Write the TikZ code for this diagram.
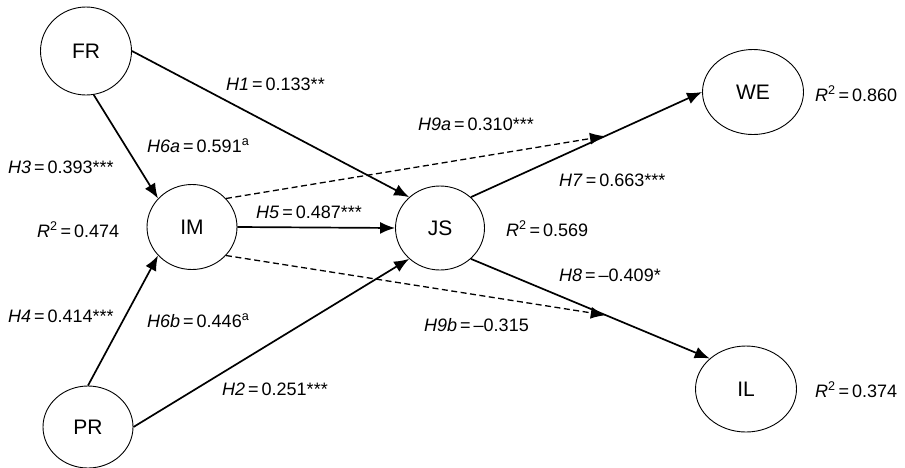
\documentclass[tikz,border=0pt]{standalone}
\usepackage{fontspec}
\setmainfont{Liberation Sans}
\usepackage{tikz}
\usetikzlibrary{shapes.geometric,arrows.meta}
\tikzset{latent/.style={draw, shape=ellipse, line width=0.9pt, inner sep=0pt, font=\fontsize{21}{23}\selectfont},
         est/.style={inner sep=0pt, anchor=base west, font=\fontsize{18}{20}\selectfont},
         path/.style={line width=1.7pt, -{Latex[length=15pt,width=12pt]}},
         medpath/.style={line width=1.3pt, dash pattern=on 6pt off 3.5pt, -{Latex[length=15pt,width=12pt]}}}
\newcommand{\est}[2]{\textit{#1}\,=\,#2}
\newcommand{\rsq}[1]{\textit{R}\textsuperscript{2}\,=\,#1}

\begin{document}
\begin{tikzpicture}[x=1pt, y=-1pt]
    \useasboundingbox (0,0) rectangle (905,467);

    \foreach \n/\x/\y/\w/\h in {FR/86/51/91/88, IM/192/227/90/85, PR/88/427/90/82,
                                JS/440/228/89/84, WE/753/92/101/85, IL/746/389/101/86}
        \node [latent, minimum width=\w pt, minimum height=\h pt] (\n) at (\x,\y) {\n};

    \draw [path] (FR.east) to (JS.135);
    \draw [path] (FR.-80) to (IM.140);
    \draw [path] (PR.north) to (IM.-140);
    \draw [path] (PR.east) to (JS.-135);
    \draw [path] (IM.east) to (JS.west);
    \draw [path] (JS.45) to coordinate [pos=0.58] (mWE) (WE.west);
    \draw [path] (JS.-45) to coordinate [pos=0.565] (mIL) (IL.140);

    \draw [medpath] (IM.40) to (mWE);
    \draw [medpath] (IM.-40) to (mIL);

    \foreach \n/\x/\y/\t in {h1/226/90/{\est{H1}{0.133**}},
                             h6a/147/152/{\est{H6a}{0.591\textsuperscript{a}}},
                             h3/8/173/{\est{H3}{0.393***}},
                             rIM/37/237/{\rsq{0.474}},
                             h5/256/218/{\est{H5}{0.487***}},
                             h4/8/322/{\est{H4}{0.414***}},
                             h6b/147/327/{\est{H6b}{0.446\textsuperscript{a}}},
                             h2/222/395/{\est{H2}{0.251***}},
                             h9a/418/130/{\est{H9a}{0.310***}},
                             h7/559/186/{\est{H7}{0.663***}},
                             rJS/506/236/{\rsq{0.569}},
                             h8/559/281/{\est{H8}{–0.409*}},
                             h9b/424/331/{\est{H9b}{–0.315}},
                             rWE/815/101/{\rsq{0.860}},
                             rIL/815/397/{\rsq{0.374}}}
        \node [est] (\n) at (\x,\y) {\t};

\end{tikzpicture}
\end{document}
